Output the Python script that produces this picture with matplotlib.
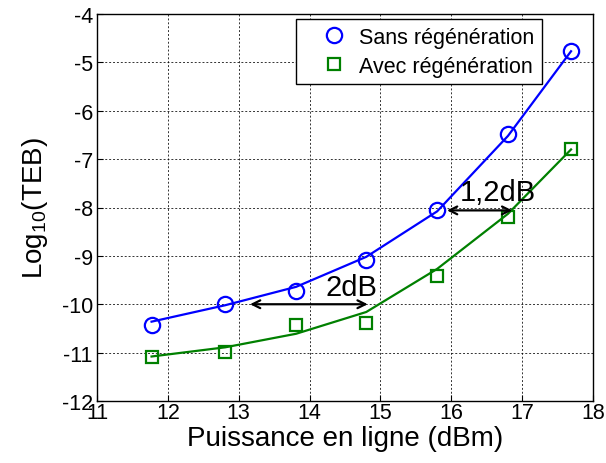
import matplotlib
matplotlib.use("Agg")
import matplotlib.pyplot as plt

plt.rcParams['font.family'] = ['Liberation Sans', 'DejaVu Sans']
plt.rcParams['mathtext.fontset'] = 'custom'
plt.rcParams['mathtext.rm'] = 'Liberation Sans'

# Data
power = [11.77, 12.81, 13.81, 14.80, 15.80, 16.80, 17.69]
sans_pts = [-10.42, -10.00, -9.72, -9.08, -8.06, -6.48, -4.77]
sans_fit = [-10.36, -10.02, -9.64, -9.02, -8.08, -6.52, -4.77]
avec_pts = [-11.09, -10.99, -10.42, -10.39, -9.41, -8.19, -6.80]
avec_fit = [-11.08, -10.89, -10.61, -10.16, -9.27, -8.13, -6.80]

xticks = [11, 12, 13, 14, 15, 16, 17, 18]
yticks = [-12, -11, -10, -9, -8, -7, -6, -5, -4]

fig = plt.figure(figsize=(6.06, 4.64), dpi=100)
ax = fig.add_axes([97/606, 1 - 402/464, (593-97)/606, (402-15)/464])

ax.plot(power, sans_fit, color='blue', lw=1.6)
ax.plot(power, avec_fit, color='#008000', lw=1.6)
ax.plot(power, sans_pts, 'o', mfc='none', mec='blue', ms=11, mew=1.6, label='Sans régénération')
ax.plot(power, avec_pts, 's', mfc='none', mec='#008000', ms=9, mew=1.6, label='Avec régénération')

# annotations
ax.annotate('', xy=(13.12, -10.0), xytext=(14.86, -10.0),
            arrowprops=dict(arrowstyle='<->', color='black', lw=1.6, mutation_scale=14))
ax.text(14.59, -9.64, '2dB', fontsize=21, ha='center', va='center')
ax.annotate('', xy=(15.90, -8.06), xytext=(16.90, -8.06),
            arrowprops=dict(arrowstyle='<->', color='black', lw=1.6, mutation_scale=14))
ax.text(16.66, -7.68, '1,2dB', fontsize=21, ha='center', va='center')

ax.set_xlim(11, 18)
ax.set_ylim(-12, -4)
ax.set_xticks(xticks)
ax.set_yticks(yticks)
ax.set_xticklabels([str(v) for v in xticks])
ax.set_yticklabels([str(v) for v in yticks])
ax.tick_params(direction='in', labelsize=15.5, length=4, pad=3)
ax.tick_params(axis='x', pad=1)
ax.grid(True, color='black', linestyle=(0, (2, 2)), lw=0.7, alpha=0.8)
for s in ax.spines.values():
    s.set_linewidth(1.0)

ax.set_xlabel('Puissance en ligne (dBm)', fontsize=20, labelpad=1)
ax.set_ylabel('Log$_{10}$(TEB)', fontsize=20, labelpad=8)

leg = ax.legend(loc='upper right', fontsize=15.5, frameon=True, fancybox=False,
                edgecolor='black', framealpha=1, borderpad=0.35, labelspacing=0.38,
                handlelength=2.9, handletextpad=-0.3, borderaxespad=0,
                bbox_to_anchor=(0.897, 0.987))
leg.get_frame().set_linewidth(1.0)

fig.savefig('out.png', dpi=100)
